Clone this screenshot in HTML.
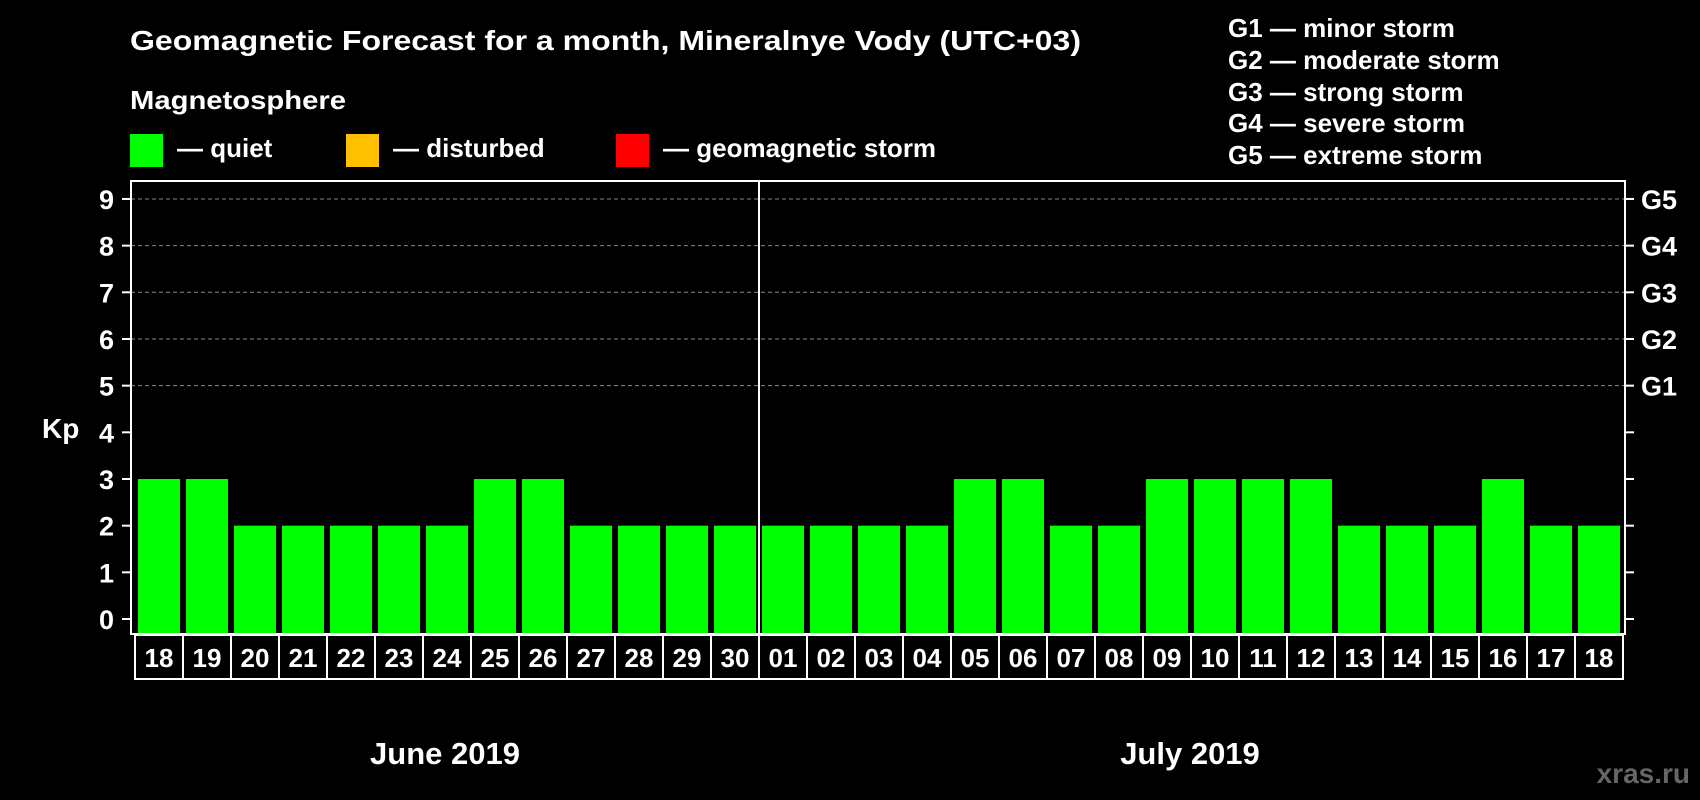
<!DOCTYPE html>
<html><head><meta charset="utf-8"><style>
body{margin:0;background:#000;}
svg{display:block;font-family:"Liberation Sans",Arial,sans-serif;font-weight:bold;}
</style></head><body>
<svg id="chart" width="1700" height="800" xmlns="http://www.w3.org/2000/svg">
<rect width="1700" height="800" fill="#000"/>
<text x="130" y="50" fill="#fff" font-size="28" textLength="951" lengthAdjust="spacingAndGlyphs">Geomagnetic Forecast for a month, Mineralnye Vody (UTC+03)</text>
<text x="130" y="109" fill="#fff" font-size="26" textLength="216" lengthAdjust="spacingAndGlyphs">Magnetosphere</text>
<g><rect x="130" y="134" width="33" height="33" fill="#00ff00"/><text x="177" y="157" fill="#fff" font-size="26">— quiet</text></g>
<g><rect x="346" y="134" width="33" height="33" fill="#ffc000"/><text x="393" y="157" fill="#fff" font-size="26">— disturbed</text></g>
<g><rect x="616" y="134" width="33" height="33" fill="#ff0000"/><text x="663" y="157" fill="#fff" font-size="26">— geomagnetic storm</text></g>
<g fill="#fff" font-size="26">
<text x="1228" y="37">G1 — minor storm</text>
<text x="1228" y="69">G2 — moderate storm</text>
<text x="1228" y="101">G3 — strong storm</text>
<text x="1228" y="132">G4 — severe storm</text>
<text x="1228" y="164">G5 — extreme storm</text>
</g>
<text x="42" y="438" fill="#fff" font-size="28">Kp</text>
<g id="grid"></g><g id="bars"></g><g id="axes"></g>
<text x="445" y="764" fill="#fff" font-size="31" text-anchor="middle">June 2019</text>
<text x="1190" y="764" fill="#fff" font-size="31" text-anchor="middle">July 2019</text>
<text x="1690" y="783" fill="#666" font-size="28" text-anchor="end">xras.ru</text>
</svg>
<script>
const days=["18","19","20","21","22","23","24","25","26","27","28","29","30","01","02","03","04","05","06","07","08","09","10","11","12","13","14","15","16","17","18"];
const kp=[3,3,2,2,2,2,2,3,3,2,2,2,2,2,2,2,2,3,3,2,2,3,3,3,3,2,2,2,3,2,2];
const yTicks=[0,1,2,3,4,5,6,7,8,9];
const gLabels=["","","","","","G1","G2","G3","G4","G5"];
const NS="http://www.w3.org/2000/svg";
const L=131,R=1625,T=181,B=634,X0=135,CW=48;
const y=v=>619-v*46.67;
const x=i=>X0+i*CW;
function mk(tag,attrs,parent,txt){const e=document.createElementNS(NS,tag);for(const k in attrs)e.setAttribute(k,attrs[k]);if(txt!==undefined)e.textContent=txt;document.getElementById(parent).appendChild(e);return e;}
yTicks.forEach((v,i)=>{
 if(v>=5){const g=mk('line',{x1:L,x2:R,y1:y(v),y2:y(v),stroke:'#888','stroke-width':1,'stroke-dasharray':'4,3'},'grid');
 
 }
 mk('line',{x1:122,x2:L,y1:y(v),y2:y(v),stroke:'#fff','stroke-width':2},'axes');
 mk('line',{x1:R,x2:R+9,y1:y(v),y2:y(v),stroke:'#fff','stroke-width':2},'axes');
 const t=mk('text',{x:114,y:y(v)+10,fill:'#fff','font-size':27,'text-anchor':'end'},'axes',String(v));
 
 
 if(gLabels[i]){const g2=mk('text',{x:1641,y:y(v)+10,fill:'#fff','font-size':27},'axes',gLabels[i]);
 
 }
});
kp.forEach((v,i)=>{
 const b=mk('rect',{x:x(i)+3,y:y(v),width:CW-6,height:B-y(v),fill:'#00ff00'},'bars');
 
 
 mk('rect',{x:x(i),y:635,width:CW,height:44,fill:'none',stroke:'#fff','stroke-width':2},'axes');
 const t=mk('text',{x:x(i)+CW/2,y:667,fill:'#fff','font-size':26,'text-anchor':'middle'},'axes',days[i]);
 
 
});
const fr=mk('rect',{x:L,y:T,width:R-L,height:B-T,fill:'none',stroke:'#fff','stroke-width':2},'axes');


const dv=mk('line',{x1:x(13),x2:x(13),y1:T,y2:B,stroke:'#fff','stroke-width':2},'axes');


</script>
</body></html>
